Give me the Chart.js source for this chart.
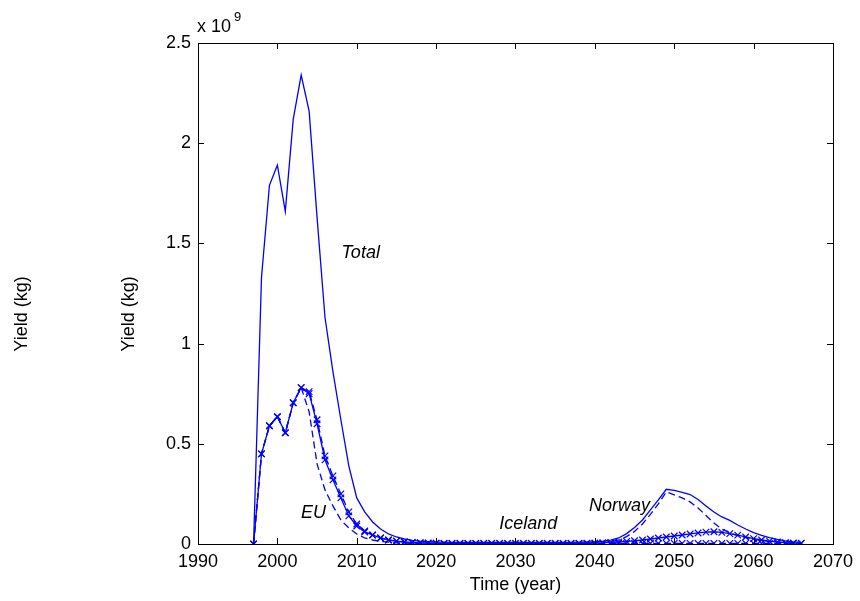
<!DOCTYPE html>
<html>
<head>
<meta charset="utf-8">
<script src="https://cdn.jsdelivr.net/npm/chart.js@4/dist/chart.umd.min.js"></script>
<style>
  html, body { margin: 0; padding: 0; background: #fff; }
  #wrap { width: 860px; height: 601px; }
</style>
</head>
<body>
<div id="wrap"><canvas id="yieldChart" width="860" height="601"></canvas></div>
<script>
// years 1997..2066
const years = [1997, 1998, 1999, 2000, 2001, 2002, 2003, 2004, 2005, 2006,
  2007, 2008, 2009, 2010, 2011, 2012, 2013, 2014, 2015, 2016,
  2017, 2018, 2019, 2020, 2021, 2022, 2023, 2024, 2025, 2026,
  2027, 2028, 2029, 2030, 2031, 2032, 2033, 2034, 2035, 2036,
  2037, 2038, 2039, 2040, 2041, 2042, 2043, 2044, 2045, 2046,
  2047, 2048, 2049, 2050, 2051, 2052, 2053, 2054, 2055, 2056,
  2057, 2058, 2059, 2060, 2061, 2062, 2063, 2064, 2065, 2066];

// yield, units of 10^9 kg
const total = [0, 1.33, 1.79, 1.89, 1.66, 2.12, 2.34, 2.16, 1.63, 1.13,
  0.86, 0.62, 0.39, 0.23, 0.16, 0.11, 0.075, 0.05, 0.035, 0.025,
  0.018, 0.014, 0.012, 0.01, 0.009, 0.008, 0.008, 0.008, 0.008, 0.008,
  0.008, 0.008, 0.008, 0.008, 0.008, 0.008, 0.008, 0.008, 0.008, 0.008,
  0.008, 0.009, 0.01, 0.011, 0.014, 0.019, 0.03, 0.052, 0.082, 0.12,
  0.17, 0.22, 0.273, 0.268, 0.258, 0.247, 0.222, 0.19, 0.16, 0.135,
  0.118, 0.095, 0.075, 0.057, 0.043, 0.032, 0.023, 0.016, 0.011, 0.008];

const eu = [0, 0.45, 0.59, 0.635, 0.555, 0.705, 0.78, 0.75, 0.6, 0.42,
  0.32, 0.23, 0.14, 0.09, 0.06, 0.045, 0.03, 0.02, 0.014, 0.01,
  0.008, 0.006, 0.005, 0.004, 0.003, 0.003, 0.003, 0.003, 0.003, 0.003,
  0.003, 0.003, 0.003, 0.003, 0.003, 0.003, 0.003, 0.003, 0.003, 0.003,
  0.003, 0.003, 0.004, 0.005, 0.006, 0.008, 0.01, 0.013, 0.016, 0.02,
  0.025, 0.03, 0.035, 0.04, 0.045, 0.05, 0.055, 0.059, 0.061, 0.058,
  0.052, 0.044, 0.035, 0.027, 0.02, 0.014, 0.01, 0.007, 0.005, 0.004];

const iceland = [0, 0.45, 0.59, 0.635, 0.555, 0.705, 0.78, 0.76, 0.62, 0.44,
  0.34, 0.25, 0.16, 0.1, 0.065, 0.045, 0.03, 0.02, 0.014, 0.01,
  0.007, 0.005, 0.004, 0.004, 0.003, 0.003, 0.003, 0.003, 0.003, 0.003,
  0.003, 0.003, 0.003, 0.003, 0.003, 0.003, 0.003, 0.003, 0.003, 0.003,
  0.003, 0.003, 0.003, 0.003, 0.003, 0.003, 0.003, 0.003, 0.003, 0.003,
  0.003, 0.003, 0.003, 0.003, 0.003, 0.003, 0.003, 0.003, 0.003, 0.003,
  0.003, 0.003, 0.003, 0.003, 0.003, 0.003, 0.003, 0.003, 0.003, 0.003];

const norway = [0, 0.45, 0.59, 0.635, 0.555, 0.705, 0.78, 0.66, 0.4, 0.27,
  0.19, 0.12, 0.08, 0.05, 0.03, 0.02, 0.013, 0.009, 0.006, 0.004,
  0.003, 0.002, 0.002, 0.002, 0.002, 0.002, 0.002, 0.002, 0.002, 0.002,
  0.002, 0.002, 0.002, 0.002, 0.002, 0.002, 0.002, 0.002, 0.002, 0.002,
  0.002, 0.003, 0.004, 0.005, 0.008, 0.011, 0.02, 0.037, 0.063, 0.1,
  0.148, 0.2, 0.26, 0.245, 0.23, 0.21, 0.18, 0.142, 0.105, 0.075,
  0.055, 0.042, 0.032, 0.024, 0.018, 0.013, 0.009, 0.006, 0.004, 0.003];

const xTicks = [1990, 2000, 2010, 2020, 2030, 2040, 2050, 2060, 2070];
const yTicks = [0, 0.5, 1, 1.5, 2, 2.5];

// text labels placed in data coordinates
const curveLabels = [
  { text: "Total", x: 2010.5, y: 1.45 },
  { text: "EU", x: 2004.55, y: 0.155 },
  { text: "Iceland", x: 2031.6, y: 0.1 },
  { text: "Norway", x: 2043.1, y: 0.19 }
];

const BLUE = "#0000ff";
const FONT = "'Liberation Sans', Arial, sans-serif";

function pts(vals) {
  return years.map((yr, i) => ({ x: yr, y: vals[i] }));
}

const matlabAxes = {
  id: "matlabAxes",
  afterDatasetsDraw(chart) {
    const ctx = chart.ctx;
    const a = chart.chartArea;
    const xs = chart.scales.x;
    const ys = chart.scales.y;
    ctx.save();
    ctx.strokeStyle = "#000";
    ctx.lineWidth = 1;
    ctx.strokeRect(Math.round(a.left) + 0.5, Math.round(a.top) + 0.5,
      Math.round(a.right - a.left), Math.round(a.bottom - a.top));
    ctx.beginPath();
    const tl = 6;
    xTicks.forEach(v => {
      const px = Math.round(xs.getPixelForValue(v)) + 0.5;
      ctx.moveTo(px, a.bottom); ctx.lineTo(px, a.bottom - tl);
      ctx.moveTo(px, a.top); ctx.lineTo(px, a.top + tl);
    });
    yTicks.forEach(v => {
      const py = Math.round(ys.getPixelForValue(v)) + 0.5;
      ctx.moveTo(a.left, py); ctx.lineTo(a.left + tl, py);
      ctx.moveTo(a.right, py); ctx.lineTo(a.right - tl, py);
    });
    ctx.stroke();

    // curve labels
    ctx.fillStyle = "#000";
    ctx.font = "italic 18px " + FONT;
    ctx.textAlign = "center";
    ctx.textBaseline = "middle";
    curveLabels.forEach(l => {
      ctx.fillText(l.text, xs.getPixelForValue(l.x), ys.getPixelForValue(l.y));
    });

    // exponent
    ctx.font = "18px " + FONT;
    ctx.textAlign = "left";
    ctx.textBaseline = "alphabetic";
    ctx.fillText("x 10", a.left - 1, a.top - 11);
    ctx.font = "13px " + FONT;
    ctx.fillText("9", a.left + 36, a.top - 22);

    // axis titles
    ctx.font = "18px " + FONT;
    ctx.textAlign = "center";
    ctx.fillText("Time (year)", (a.left + a.right) / 2, 590);
    const midY = 314;
    [22, 129].forEach(cx => {
      ctx.save();
      ctx.translate(cx, midY);
      ctx.rotate(-Math.PI / 2);
      ctx.textBaseline = "middle";
      ctx.fillText("Yield (kg)", 0, 0);
      ctx.restore();
    });
    ctx.restore();
  }
};

const lineBase = {
  borderColor: BLUE,
  backgroundColor: BLUE,
  borderWidth: 1.3,
  fill: false,
  tension: 0,
  pointRadius: 0
};

const xMark = {
  pointStyle: "crossRot",
  pointRadius: 4.6,
  pointBorderWidth: 1.2,
  pointBorderColor: BLUE
};

new Chart(document.getElementById("yieldChart"), {
  type: "line",
  data: {
    datasets: [
      Object.assign({}, lineBase, { label: "Total", data: pts(total) }),
      Object.assign({}, lineBase, xMark, { label: "EU", data: pts(eu) }),
      Object.assign({}, lineBase, xMark, { label: "Iceland", data: pts(iceland), borderDash: [7, 4] }),
      Object.assign({}, lineBase, { label: "Norway", data: pts(norway), borderDash: [7, 4] })
    ]
  },
  options: {
    responsive: false,
    animation: false,
    events: [],
    layout: { padding: { left: 0, top: 43, right: 26, bottom: 0 } },
    plugins: { legend: { display: false }, tooltip: { enabled: false } },
    scales: {
      x: {
        type: "linear",
        min: 1990,
        max: 2070,
        grid: { display: false, drawTicks: false },
        border: { display: false },
        afterBuildTicks: s => { s.ticks = xTicks.map(v => ({ value: v })); },
        afterFit: s => { s.height = 57; },
        ticks: {
          color: "#000",
          font: { family: FONT, size: 18 },
          padding: 7,
          maxRotation: 0,
          callback: v => String(v)
        }
      },
      y: {
        min: 0,
        max: 2.5,
        grid: { display: false, drawTicks: false },
        border: { display: false },
        afterBuildTicks: s => { s.ticks = yTicks.map(v => ({ value: v })); },
        afterFit: s => { s.width = 198; },
        ticks: {
          color: "#000",
          font: { family: FONT, size: 18 },
          padding: 7,
          callback: v => String(v)
        }
      }
    }
  },
  plugins: [matlabAxes]
});
</script>
</body>
</html>
